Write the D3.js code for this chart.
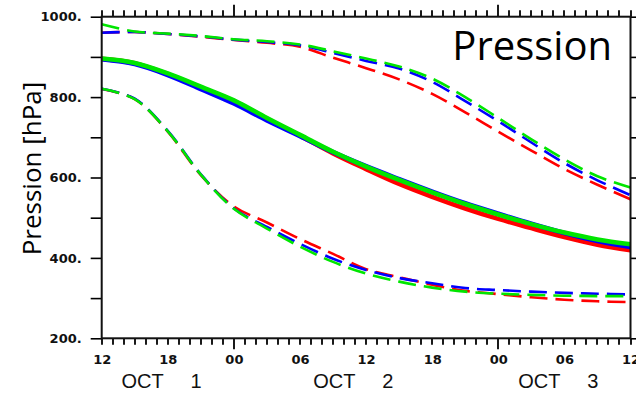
<!DOCTYPE html>
<html>
<head>
<meta charset="utf-8">
<script src="https://cdn.jsdelivr.net/npm/d3@7"></script>
<style>
  body { margin: 0; background: #fff; }
</style>
</head>
<body>
<div class="container"></div>
<script>
// hours after 12Z OCT 1, one value every 3 h
const hours = [0, 3, 6, 9, 12, 15, 18, 21, 24, 27, 30, 33, 36, 39, 42, 45, 48];

// upper dashed curves
const upperRed   = [960, 962, 957, 950, 942, 935, 925, 898, 872, 844, 808, 762, 714, 667, 621, 582, 546];
const upperBlue  = [960, 962, 957, 951, 943, 937, 929, 910, 890, 871, 838, 790, 740, 687, 636, 593, 556];
const upperGreen = [981, 963, 958, 952, 944, 939, 931, 914, 896, 876, 846, 800, 748, 695, 645, 603, 575];

// middle solid curves
const midRed   = [895, 884, 857, 824, 790, 746, 704, 660, 621, 584, 552, 523, 497, 474, 452, 433, 419];
const midBlue  = [894, 882, 855, 820, 784, 742, 703, 663, 628, 596, 565, 536, 510, 485, 462, 442, 427];
const midGreen = [896, 885, 859, 826, 792, 748, 706, 664, 627, 594, 563, 534, 508, 484, 463, 446, 434];

// lower dashed curves
const lowRed   = [820, 795, 714, 606, 528, 488, 447, 410, 372, 352, 333, 318, 310, 302, 296, 292, 290];
const lowBlue  = [821, 796, 716, 608, 523, 477, 435, 398, 370, 350, 337, 325, 320, 316, 313, 311, 309];
const lowGreen = [821, 795, 715, 607, 522, 473, 428, 390, 361, 341, 326, 316, 311, 308, 306, 305, 305];

const yTicks = [200, 300, 400, 500, 600, 700, 800, 900, 1000];
const hourTicks = d3.range(0, 49);
const timeTickHours = [0, 6, 12, 18, 24, 30, 36, 42, 48];
const timeLabels = ["12", "18", "00", "06", "12", "18", "00", "06", "12"];
const dayHours = [12, 36];
const dayMonth = "OCT";
const dayNumbers = ["1", "2", "3"];
const dayLabelHours = [1.8, 19.2, 37.8];

const series = [
  { values: upperRed, color: "#ff0000", dashed: true },
  { values: upperBlue, color: "#0000ff", dashed: true },
  { values: upperGreen, color: "#00e600", dashed: true },
  { values: lowRed, color: "#ff0000", dashed: true },
  { values: lowBlue, color: "#0000ff", dashed: true },
  { values: lowGreen, color: "#00e600", dashed: true },
  { values: midRed, color: "#ff0000", dashed: false },
  { values: midBlue, color: "#0000ff", dashed: false },
  { values: midGreen, color: "#00e600", dashed: false }
];

const width = 636, height = 395;
const plotLeft = 101.7, plotRight = 630.5, plotTop = 16.7, plotBottom = 338.3;

let x = d3.scaleLinear().domain([0, 48]).range([plotLeft, plotRight]);
let y = d3.scaleLinear().domain([200, 1000]).range([plotBottom, plotTop]);

let svgContainer = d3.select(".container")
  .append("svg")
    .attr("width", width)
    .attr("height", height)
    .style("display", "block");

// lines
let line = d3.line()
  .x((d, i) => x(hours[i]))
  .y(d => y(d))
  .curve(d3.curveCatmullRom.alpha(0.5));

svgContainer.append("g")
  .selectAll("path")
  .data(series)
  .join("path")
    .attr("d", d => line(d.values))
    .attr("fill", "none")
    .attr("stroke", d => d.color)
    .attr("stroke-width", d => d.dashed ? 2.6 : 4.6)
    .attr("stroke-dasharray", d => d.dashed ? "18,8" : null);

// axes
function styleAxis(g) {
  g.select(".domain").remove();
  g.selectAll(".tick line").attr("stroke", "#000").attr("stroke-width", 1.6);
  g.selectAll("text")
    .attr("fill", "#111")
    .attr("font-family", "DejaVu Sans")
    .attr("font-weight", "bold")
    .attr("font-size", 13);
}

svgContainer.append("g")
  .attr("transform", `translate(${plotLeft},0)`)
  .call(d3.axisLeft(y).tickValues(yTicks).tickSize(11).tickPadding(9)
    .tickFormat(d => d % 200 === 0 ? d + "." : ""))
  .call(styleAxis);

svgContainer.append("g")
  .attr("transform", `translate(${plotRight},0)`)
  .call(d3.axisRight(y).tickValues(yTicks).tickSize(11).tickFormat(""))
  .call(styleAxis);

svgContainer.append("g")
  .attr("transform", `translate(0,${plotBottom})`)
  .call(d3.axisBottom(x).tickValues(timeTickHours).tickSize(0).tickPadding(16.5)
    .tickFormat((d, i) => timeLabels[i]))
  .call(styleAxis);

// hourly ticks, longer at 00Z, pointing outward top and bottom
let timeTicks = svgContainer.append("g")
  .attr("stroke", "#000")
  .attr("stroke-width", 1.8);

timeTicks.selectAll("line.bottom")
  .data(hourTicks)
  .join("line")
    .attr("class", "bottom")
    .attr("x1", d => Math.round(x(d)))
    .attr("x2", d => Math.round(x(d)))
    .attr("y1", plotBottom)
    .attr("y2", d => plotBottom + (dayHours.includes(d) ? 11 : 6.5));

timeTicks.selectAll("line.top")
  .data(hourTicks)
  .join("line")
    .attr("class", "top")
    .attr("x1", d => Math.round(x(d)))
    .attr("x2", d => Math.round(x(d)))
    .attr("y1", plotTop)
    .attr("y2", d => plotTop - (dayHours.includes(d) ? 12 : 6.5));

// frame
svgContainer.append("rect")
  .attr("x", plotLeft)
  .attr("y", plotTop)
  .attr("width", plotRight - plotLeft)
  .attr("height", plotBottom - plotTop)
  .attr("fill", "none")
  .attr("stroke", "#111")
  .attr("stroke-width", 2);

// day labels
let days = svgContainer.append("g")
  .attr("font-family", "Liberation Sans")
  .attr("font-size", 20)
  .attr("fill", "#111");

days.selectAll("text.month")
  .data(dayLabelHours)
  .join("text")
    .attr("class", "month")
    .attr("x", d => x(d))
    .attr("y", 388)
    .text(dayMonth);

days.selectAll("text.day")
  .data(dayLabelHours)
  .join("text")
    .attr("class", "day")
    .attr("x", d => x(d) + 69)
    .attr("y", 388)
    .text((d, i) => dayNumbers[i]);

// titles
svgContainer.append("text")
  .attr("x", 612)
  .attr("y", 60)
  .attr("text-anchor", "end")
  .attr("font-family", "Open Sans")
  .attr("font-size", 40)
  .attr("fill", "#000")
  .text("Pression");

svgContainer.append("text")
  .attr("transform", `translate(41,${(plotTop + plotBottom) / 2 - 9}) rotate(-90)`)
  .attr("text-anchor", "middle")
  .attr("font-family", "Open Sans")
  .attr("font-size", 26)
  .attr("fill", "#000")
  .text("Pression [hPa]");
</script>
</body>
</html>
